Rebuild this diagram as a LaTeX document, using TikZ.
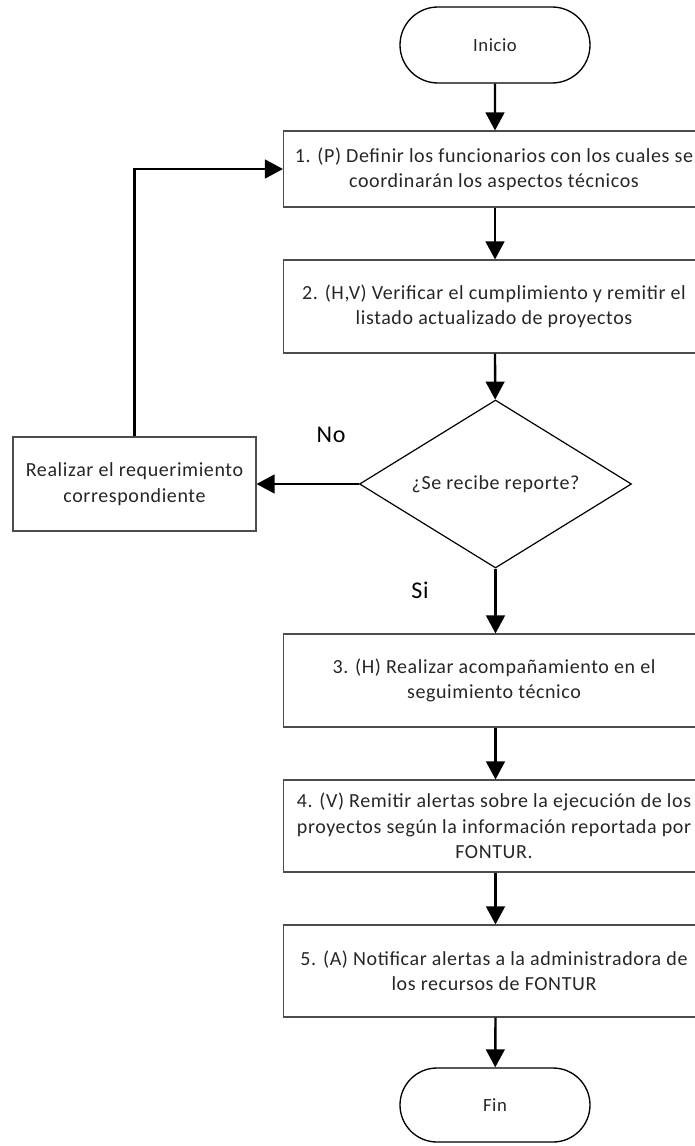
\documentclass[tikz,border=0pt]{standalone}
\usepackage{fontspec}
\setmainfont{Carlito}
\usetikzlibrary{shapes.geometric,shapes.misc,arrows.meta}
\newfontfamily\boxfont[LetterSpace=3]{Carlito}
\begin{document}
\begin{tikzpicture}[x=0.75pt,y=-0.75pt,
  every node/.style={font=\boxfont\fontsize{15}{19}\selectfont, text=black!85},
  procbox/.style={draw=black!70, line width=0.8pt, rectangle, minimum width=315.75pt, inner sep=0pt, align=center},
  termbox/.style={draw=black, line width=1pt, rounded rectangle, minimum width=142.5pt, minimum height=57pt, inner sep=0pt, font=\boxfont\fontsize{14}{19}\selectfont},
  decbox/.style={draw=black, line width=0.9pt, diamond, minimum width=204pt, minimum height=126pt, inner sep=0pt, aspect=1.62},
  lbl/.style={font=\boxfont\fontsize{18}{20}\selectfont, text=black},
  arr/.style={line width=1.8pt, -{Triangle[length=13.5pt,width=14pt]}}
]
\useasboundingbox (0,0) rectangle (694,1146);
\node[termbox] (ini) at (495,45) {Inicio};
\node[procbox, minimum height=57pt] (b1) at (494,169) {1. (P) Definir los funcionarios con los cuales se\\coordinarán los aspectos técnicos};
\node[procbox, minimum height=69.75pt] (b2) at (494,306.5) {2. (H,V) Verificar el cumplimiento y remitir el\\listado actualizado de proyectos};
\node[decbox] (dec) at (495.5,484) {¿Se recibe reporte?};
\node[procbox, minimum width=182.25pt, minimum height=70.5pt] (req) at (134.5,484) {Realizar el requerimiento\\correspondiente};
\node[procbox, minimum height=69.75pt] (b3) at (494,680.5) {3. (H) Realizar acompañamiento en el\\seguimiento técnico};
\node[procbox, minimum height=69pt] (b4) at (494,826) {4. (V) Remitir alertas sobre la ejecución de los\\proyectos según la información reportada por\\FONTUR.};
\node[procbox, minimum height=69pt] (b5) at (494,971) {5. (A) Notificar alertas a la administradora de\\los recursos de FONTUR};
\node[termbox, minimum height=55.5pt] (fin) at (495,1105) {Fin};
\node[lbl] (no) at (331,435) {No};
\node[lbl] (si) at (420,590) {Si};
\draw[arr] (ini) -- (ini |- b1.north);
\draw[arr] (ini |- b1.south) -- (ini |- b2.north);
\draw[arr] (ini |- b2.south) -- (dec);
\draw[arr] (dec) -- (dec |- b3.north);
\draw[arr] (dec |- b3.south) -- (dec |- b4.north);
\draw[arr] (dec |- b4.south) -- (dec |- b5.north);
\draw[arr] (dec |- b5.south) -- (fin);
\draw[arr] (dec.west) -- (req.east);
\draw[arr] (req.north) |- (b1.west);
\end{tikzpicture}
\end{document}
